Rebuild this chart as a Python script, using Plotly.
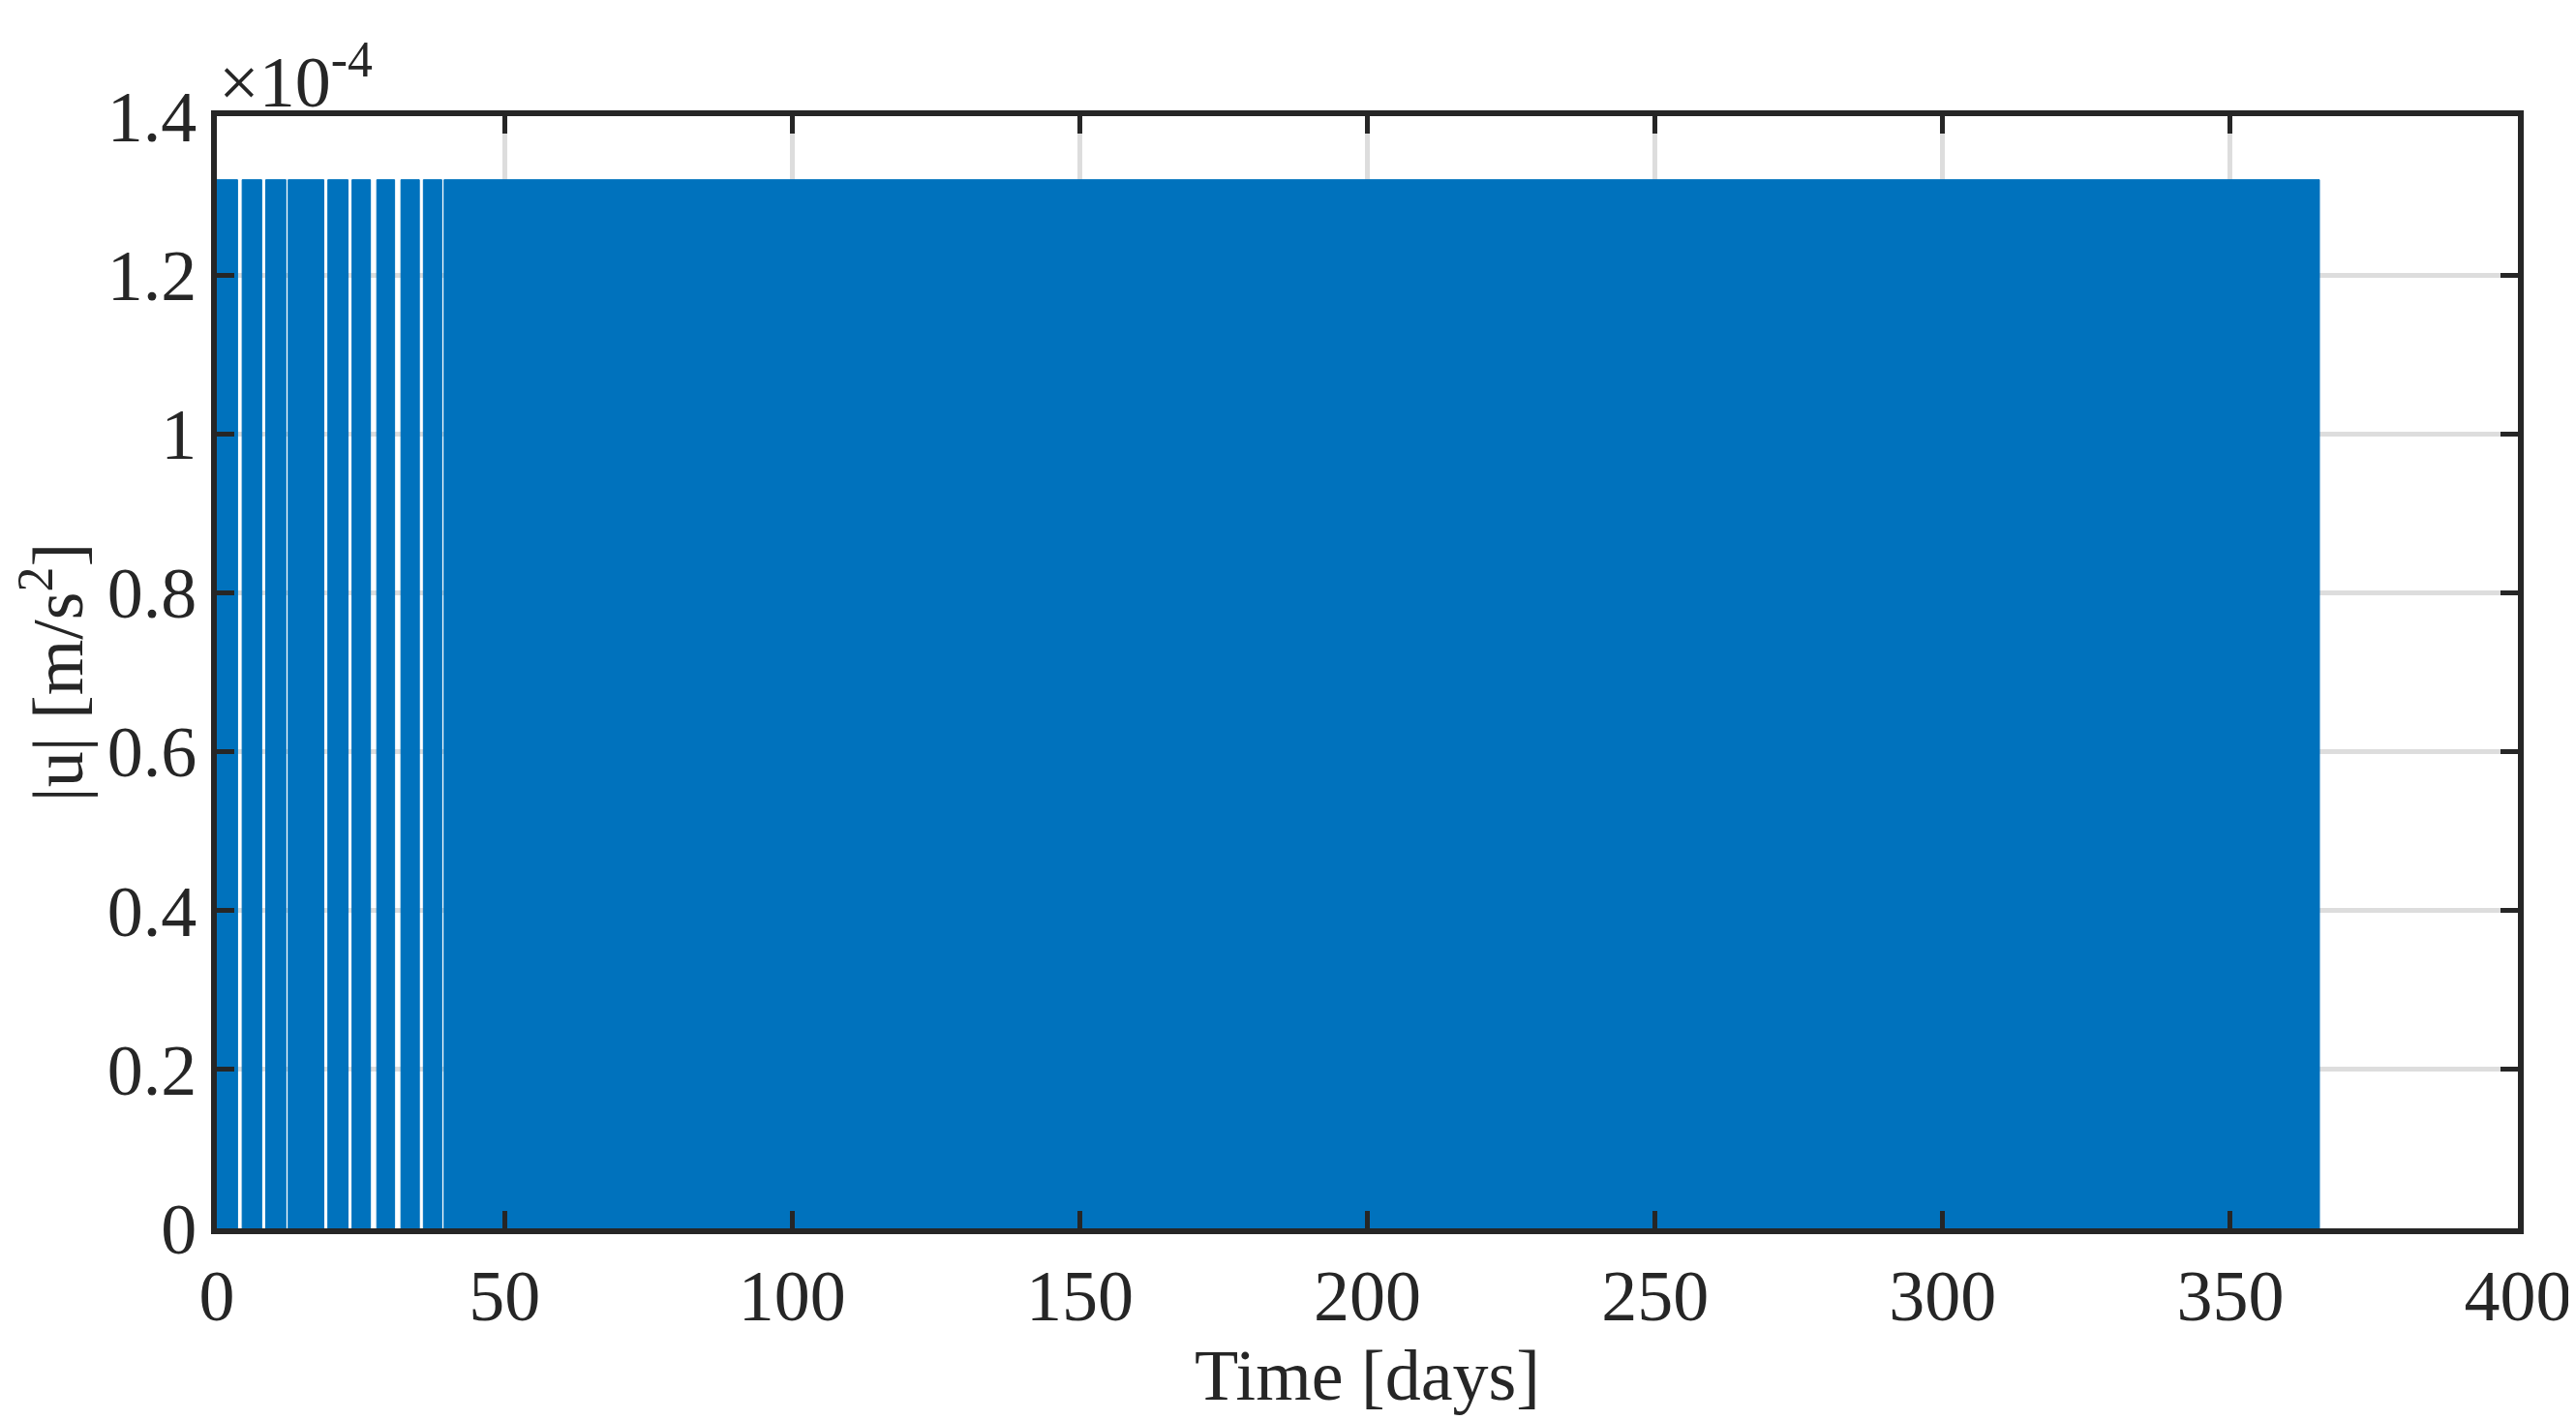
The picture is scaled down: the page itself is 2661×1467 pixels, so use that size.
import plotly.graph_objects as go

# Thrust magnitude: bang-bang profile, on at U_MAX except during off-gaps (days)
U_MAX = 1.32e-4
T_END = 365.5
gap_start = [3.6, 7.8, 12.0, 18.6, 22.8, 26.7, 30.9, 35.2, 39.1]
gap_end   = [4.4, 8.5, 12.4, 19.3, 23.5, 27.8, 32.0, 35.9, 39.5]
x_ticks = [0, 50, 100, 150, 200, 250, 300, 350, 400]
y_ticks = [0, 0.2e-4, 0.4e-4, 0.6e-4, 0.8e-4, 1.0e-4, 1.2e-4, 1.4e-4]
y_tick_text = ["0", "0.2", "0.4", "0.6", "0.8", "1", "1.2", "1.4"]

# build "on" intervals
on = []
s = 0.0
for a, b in zip(gap_start, gap_end):
    on.append((s, a))
    s = b
on.append((s, T_END))

xs, ys = [], []
for a, b in on:
    xs += [a, a, b, b, None]
    ys += [0, U_MAX, U_MAX, 0, None]

blue = "#0072BD"
fig = go.Figure()
fig.add_trace(go.Scatter(x=xs, y=ys, mode="lines", fill="toself", fillcolor=blue,
                         line=dict(color=blue, width=1), showlegend=False))

font = dict(family="Liberation Serif, Times New Roman, serif", size=74, color="#262626")
axis_common = dict(showline=True, linecolor="#262626", linewidth=6, mirror="ticks",
                   ticks="inside", ticklen=18, tickwidth=5, tickcolor="#262626",
                   showgrid=True, gridcolor="#DDDDDD", gridwidth=5, zeroline=False,
                   tickfont=font)
fig.update_xaxes(range=[0, 400], tickvals=x_ticks, title=dict(text="Time [days]", font=font, standoff=5),
                 **axis_common)
fig.update_yaxes(range=[0, 1.4e-4], tickvals=y_ticks, ticktext=y_tick_text,
                 title=dict(text="|u| [m/s<sup>2</sup>]", font=font, standoff=15), **axis_common)
fig.add_annotation(xref="paper", yref="paper", x=0.0, y=1.0, xanchor="left", yanchor="bottom",
                   text="×10<sup>-4</sup>", showarrow=False, font=font, yshift=-8)
fig.update_layout(width=2661, height=1467, margin=dict(l=216, r=68, t=112, b=206),
                  plot_bgcolor="white", paper_bgcolor="white", font=font)
fig.write_html("out.html")
